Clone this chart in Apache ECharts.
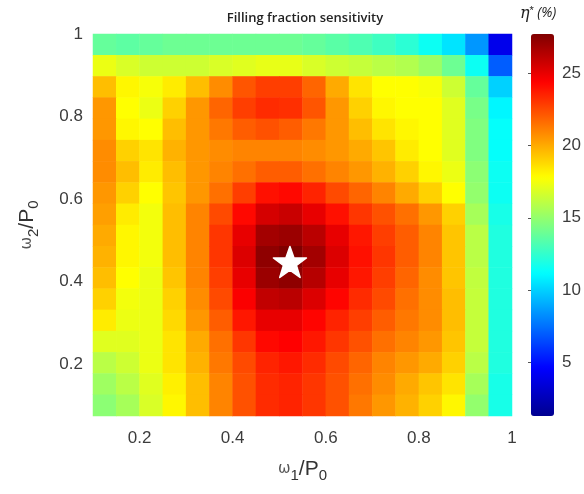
<!DOCTYPE html>
<html>
<head>
<meta charset="utf-8">
<script src="https://cdn.jsdelivr.net/npm/echarts@6/dist/echarts.min.js"></script>
<style>
html, body { margin:0; padding:0; background:#fff; }
#data { width:584px; height:494px; }
</style>
</head>
<body>
<div id="data"></div>
<script>
// cell centres of omega1/P0 (columns) and omega2/P0 (rows, top first)
var xCenters = [0.125,0.175,0.225,0.275,0.325,0.375,0.425,0.475,0.525,0.575,0.625,0.675,0.725,0.775,0.825,0.875,0.925,0.975];
var yCenters = [0.974,0.923,0.871,0.820,0.769,0.717,0.666,0.614,0.563,0.512,0.460,0.409,0.357,0.306,0.254,0.203,0.152,0.100];

// eta* (%), one row per yCenters entry
var etaRows = [
	[13.8,13.6,13.8,14,14,14,14,14,14,13.8,13.5,13.2,12.8,12.3,11.5,10.5,8.5,4],
	[17.3,16.8,16.5,16.5,16.5,16.8,17,17.2,17.2,16.8,16.5,16.3,16,15.8,15.2,14,11.5,7],
	[19.5,18,17.6,18.3,19.5,20.8,22.2,22.8,22.8,21.8,20,18.5,17.8,17.8,17.6,16.5,13.8,10],
	[20.5,17.8,17.3,19,20.5,21.8,22.8,23.3,23.2,22.2,20.5,19,18,17.8,17.8,17,14.3,11],
	[20.5,18,17.8,19.5,20.5,21.3,22,22.3,22,21.3,20.5,19.5,18.5,18,17.8,17,14.5,11.3],
	[20.8,19,18.5,19.8,20.5,20.8,21,21,21,20.8,20.5,20,19.3,18.3,17.8,17,14.5,11.3],
	[20.8,19.5,18.3,19.5,20.5,21,21.5,22,22,21.5,21,20.5,19.8,19,18,17.3,14.8,11.5],
	[20.5,19,17.8,19.3,20.5,21.5,22.8,24,24.2,23.5,22.5,21.8,21,20,19,17.8,15,11.5],
	[20.3,18.3,17.5,19.5,21,22.5,24.2,25.5,25.8,25,24,23,22.3,21.5,20.5,19,15.5,11.8],
	[20,18,17.5,19.5,21,23,25,26.8,27,26.2,25,23.8,22.8,22,21,19.3,16,12],
	[19.8,18,17.5,19.5,21,23,25.3,27.3,27.7,26.8,25.3,24,23,22,21,19.3,16,12],
	[19.5,17.8,17.3,19.3,21,22.8,25,27,27.3,26.3,25,23.8,22.8,21.8,20.8,19.3,16.2,12],
	[19,17.5,17.3,19,20.8,22.5,24.5,26,26.2,25.3,24.3,23.3,22.5,21.5,20.8,19.5,16.3,12],
	[18.3,17.3,17.3,18.8,20.5,22,23.8,25,25,24.3,23.5,22.8,22,21.3,20.8,19.5,16.3,12],
	[17,17,17.3,18.5,20,21.5,23,24.2,24.4,23.8,23,22.3,21.5,21,20.5,19.3,16.3,12],
	[16,16.5,17.3,18.5,19.8,21.3,22.5,23.5,23.8,23.3,22.5,21.8,21,20.5,20,19,16,12],
	[15.3,16,17,18.2,19.5,21,22.3,23.3,23.5,23,22.3,21.5,20.8,20,19.3,18.5,15.5,11.8],
	[14.8,15.5,16.8,18,19.5,21,22.3,23.3,23.5,23,22.3,21.3,20.5,19.8,19,18,15,11.8]
];

var bestPoint = [0.523, 0.448];
var xTicks = [0.2, 0.4, 0.6, 0.8, 1];
var yTicks = [0.2, 0.4, 0.6, 0.8, 1];
var barTicks = [5, 10, 15, 20, 25];
var etaMin = 1.3, etaMax = 27.7;

var jet = ['#00008f','#0000ff','#0080ff','#00ffff','#80ff80','#ffff00','#ff8000','#ff0000','#800000'];

var cells = [];
for(var r=0; r<etaRows.length; r++){
	for(var c=0; c<etaRows[r].length; c++){
		cells.push([c, etaRows.length-1-r, etaRows[r][c]]);
	}
}
var xCats = xCenters.map(function(v){ return String(v) });
var yCats = yCenters.slice().reverse().map(function(v){ return String(v) });

var tickFont = { fontFamily:'Liberation Sans, Arial', fontSize:17, color:'#3c3c3c' };
var star = 'path://M50,3 L61.5,36 L97,36 L68.5,57.5 L79,92 L50,71 L21,92 L31.5,57.5 L3,36 L38.5,36 Z';
var axisName = { rich:{
	w:{ fontFamily:'DejaVu Sans', fontSize:15, color:'#555' },
	n:{ fontFamily:'Liberation Sans', fontSize:21, color:'#333' },
	sub:{ fontFamily:'Liberation Sans', fontSize:15, color:'#333', verticalAlign:'bottom', padding:[12,0,0,0] }
}};

var chart = echarts.init(document.getElementById('data'));
chart.setOption({
	animation:false,
	title:{
		text:'Filling fraction sensitivity',
		left:300, top:7, textAlign:'center',
		textStyle:{ fontFamily:'Open Sans', fontSize:13, fontWeight:600, color:'#222' }
	},
	graphic:[{
		type:'text', left:520, top:5,
		style:{
			text:'{e|η}{s|*} {p|(%)}',
			rich:{
				e:{ fontFamily:'DejaVu Serif', fontStyle:'italic', fontSize:16, fill:'#222' },
				s:{ fontFamily:'Liberation Sans', fontSize:11, fill:'#222', verticalAlign:'top', padding:[0,0,6,0] },
				p:{ fontFamily:'Open Sans', fontStyle:'italic', fontSize:14, fill:'#222' }
			}
		}
	}],
	grid:[
		{ left:93, top:34, width:419, height:382 },
		{ left:531, top:34, width:23, height:382 }
	],
	xAxis:[
		{ type:'category', gridIndex:0, data:xCats, show:false },
		{
			type:'value', gridIndex:0, min:0.1, max:1, position:'bottom',
			axisLine:{show:false}, axisTick:{show:false}, splitLine:{show:false},
			axisLabel:Object.assign({ customValues:xTicks, margin:14 }, tickFont),
			name:'{w|ω}{sub|1}{n|/P}{sub|0}', nameLocation:'middle', nameGap:40,
			nameTextStyle:axisName
		},
		{ type:'value', gridIndex:1, show:false }
	],
	yAxis:[
		{ type:'category', gridIndex:0, data:yCats, show:false },
		{
			type:'value', gridIndex:0, min:0.075, max:1, position:'left',
			axisLine:{show:false}, axisTick:{show:false}, splitLine:{show:false},
			axisLabel:Object.assign({ customValues:yTicks, margin:10 }, tickFont),
			name:'{w|ω}{sub|2}{n|/P}{sub|0}', nameLocation:'middle', nameGap:52, nameRotate:90,
			nameTextStyle:axisName
		},
		{
			type:'value', gridIndex:1, min:etaMin, max:etaMax, position:'right',
			axisLine:{show:false}, splitLine:{show:false},
			axisTick:{ show:true, inside:true, length:3, customValues:barTicks, lineStyle:{color:'#555'} },
			axisLabel:Object.assign({ customValues:barTicks, margin:10 }, tickFont)
		}
	],
	visualMap:{
		type:'continuous', seriesIndex:0, min:etaMin, max:etaMax,
		calculable:false, left:531, top:34, padding:0,
		itemWidth:23, itemHeight:382, text:null, showLabel:false,
		inRange:{ color:jet }
	},
	series:[
		{
			type:'heatmap', xAxisIndex:0, yAxisIndex:0, data:cells,
			progressive:0, emphasis:{ disabled:true }
		},
		{
			type:'scatter', xAxisIndex:1, yAxisIndex:1, data:[bestPoint],
			symbol:star, symbolSize:[33,31],
			itemStyle:{ color:'#ffffff', opacity:1, borderColor:'#ffffff', borderWidth:1.5, borderJoin:'round' },
			emphasis:{ disabled:true },
			z:5
		}
	]
});
</script>
</body>
</html>
